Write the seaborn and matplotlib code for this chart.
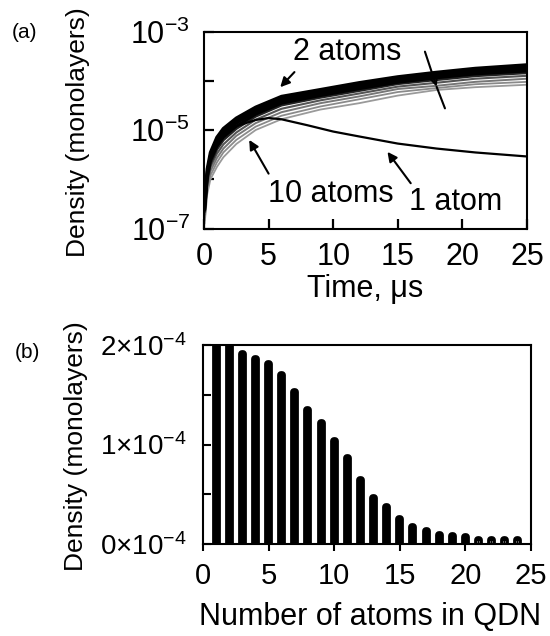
import numpy as np
import pandas as pd
import matplotlib
matplotlib.use("Agg")
import matplotlib.pyplot as plt
from matplotlib.ticker import FixedLocator, NullFormatter
import seaborn as sns

# ---------------- data ----------------
t_bundle = [0.05, 0.25, 0.5, 1, 1.5, 2.5, 4, 6, 9, 12, 15, 18, 21, 25]
dens_2 = [3.2e-7, 1.6e-6, 3.5e-6, 7.1e-6, 1.07e-5, 1.74e-5, 2.9e-5, 4.8e-5, 6.6e-5, 9.1e-5, 1.2e-4, 1.48e-4, 1.78e-4, 2.1e-4]
dens_3 = [2.9e-7, 1.41e-6, 3.1e-6, 6.2e-6, 9.3e-6, 1.55e-5, 2.6e-5, 4.3e-5, 6.0e-5, 8.3e-5, 1.1e-4, 1.35e-4, 1.62e-4, 1.9e-4]
dens_4 = [2.6e-7, 1.26e-6, 2.75e-6, 5.4e-6, 8.1e-6, 1.38e-5, 2.35e-5, 3.9e-5, 5.5e-5, 7.6e-5, 1.02e-4, 1.26e-4, 1.51e-4, 1.74e-4]
dens_5 = [2.4e-7, 1.12e-6, 2.4e-6, 4.7e-6, 7.2e-6, 1.2e-5, 2.1e-5, 3.5e-5, 5.0e-5, 6.9e-5, 9.3e-5, 1.15e-4, 1.38e-4, 1.58e-4]
dens_6 = [2.2e-7, 1.0e-6, 2.1e-6, 4.1e-6, 6.3e-6, 1.07e-5, 1.9e-5, 3.2e-5, 4.6e-5, 6.3e-5, 8.7e-5, 1.05e-4, 1.26e-4, 1.45e-4]
dens_7 = [1.9e-7, 8.4e-7, 1.78e-6, 3.3e-6, 5.1e-6, 8.9e-6, 1.62e-5, 2.7e-5, 4.0e-5, 5.5e-5, 7.6e-5, 9.1e-5, 1.1e-4, 1.26e-4]
dens_8 = [1.66e-7, 7.1e-7, 1.46e-6, 2.7e-6, 4.2e-6, 7.6e-6, 1.38e-5, 2.3e-5, 3.5e-5, 4.8e-5, 6.8e-5, 7.9e-5, 9.5e-5, 1.1e-4]
dens_9 = [1.45e-7, 6.0e-7, 1.2e-6, 2.2e-6, 3.5e-6, 6.3e-6, 1.17e-5, 1.95e-5, 3.0e-5, 4.2e-5, 5.9e-5, 7.1e-5, 8.5e-5, 9.5e-5]
dens_10 = [1.26e-7, 5.0e-7, 1.0e-6, 1.78e-6, 2.8e-6, 5.2e-6, 1.0e-5, 1.66e-5, 2.6e-5, 3.5e-5, 5.0e-5, 6.5e-5, 7.4e-5, 8.3e-5]

t_single = [0.05, 0.25, 0.5, 1, 1.5, 2.5, 4, 5, 6, 8, 10, 12, 15, 18, 21, 25]
dens_1 = [3.0e-7, 1.5e-6, 3.2e-6, 6.0e-6, 8.5e-6, 1.2e-5, 1.6e-5, 1.75e-5, 1.65e-5, 1.25e-5, 9.3e-6, 7.4e-6, 5.3e-6, 4.2e-6, 3.5e-6, 2.9e-6]

atoms = list(range(1, 25))
qdn_density = [2.6e-4, 2.1e-4, 1.91e-4, 1.86e-4, 1.81e-4, 1.70e-4, 1.53e-4, 1.35e-4, 1.22e-4, 1.04e-4,
               0.86e-4, 0.64e-4, 0.46e-4, 0.37e-4, 0.25e-4, 0.17e-4, 0.13e-4, 0.09e-4, 0.08e-4, 0.07e-4,
               0.045e-4, 0.045e-4, 0.045e-4, 0.045e-4]

top_yticks = [1e-7, 1e-5, 1e-3]
top_yticklabels = [r'$10^{-7}$', r'$10^{-5}$', r'$10^{-3}$']
bot_yticks = [0, 1e-4, 2e-4]
bot_yticklabels = [r'$0{\times}10^{-4}$', r'$1{\times}10^{-4}$', r'$2{\times}10^{-4}$']
xticks = [0, 5, 10, 15, 20, 25]

# ---------------- style ----------------
sns.set_style("white")
plt.rcParams['font.family'] = ['Liberation Sans', 'DejaVu Sans']
plt.rcParams['mathtext.fontset'] = 'custom'
plt.rcParams['mathtext.rm'] = 'Liberation Sans'
plt.rcParams['mathtext.it'] = 'Liberation Sans:italic'
plt.rcParams['mathtext.default'] = 'regular'
for key in ['text.color', 'axes.labelcolor', 'xtick.color', 'ytick.color',
            'xtick.labelcolor', 'ytick.labelcolor']:
    plt.rcParams[key] = 'black'

W, H = 550, 636
fig = plt.figure(figsize=(5.5, 6.36), dpi=100)

def box(l, t, r, b):
    return [l / W, 1 - b / H, (r - l) / W, (b - t) / H]

ax1 = fig.add_axes(box(204, 31.5, 527, 228.5))
ax2 = fig.add_axes(box(203, 345, 531, 544))

# ---------------- panel (a) ----------------
curves = [
    (dens_10, '#9a9a9a', 1.3),
    (dens_9, '#8a8a8a', 1.3),
    (dens_8, '#777777', 1.4),
    (dens_7, '#555555', 1.5),
    (dens_6, '#222222', 2.0),
    (dens_5, '#000000', 2.2),
    (dens_4, '#000000', 2.2),
    (dens_3, '#000000', 2.2),
    (dens_2, '#000000', 2.4),
]
for vals, col, lw in curves:
    sns.lineplot(x=t_bundle, y=vals, color=col, lw=lw, ax=ax1, legend=False)
sns.lineplot(x=t_single, y=dens_1, color='black', lw=1.6, ax=ax1, legend=False)

ax1.set_yscale('log')
ax1.set_xlim(0, 25)
ax1.set_ylim(1e-7, 1e-3)
ax1.set_yticks(top_yticks, labels=top_yticklabels)
ax1.yaxis.set_minor_locator(FixedLocator([1e-6, 1e-4]))
ax1.yaxis.set_minor_formatter(NullFormatter())
ax1.set_xticks(xticks, labels=[str(v) for v in xticks])
ax1.tick_params(which='both', direction='in', length=7, width=1.6, labelsize=22,
                left=True, bottom=True, top=False, right=False, colors='black')
ax1.tick_params(axis='y', pad=10)
ax1.tick_params(axis='x', pad=10)
ax1.set_xlabel('')
ax1.set_ylabel('')
for s in ax1.spines.values():
    s.set_linewidth(1.5)
    s.set_color('black')

arrow_kw = dict(arrowstyle='-|>', color='black', lw=1.5, mutation_scale=14,
                shrinkA=0, shrinkB=0)
ax1.annotate('', xy=(5.9, 7.4e-5), xytext=(7.0, 1.5e-4), arrowprops=arrow_kw)
ax1.text(11.1, 3.9e-4, '2 atoms', fontsize=22, ha='center', va='center')
ax1.annotate('', xy=(3.5, 6.3e-6), xytext=(5.0, 1.3e-6), arrowprops=arrow_kw)
ax1.text(9.8, 5.1e-7, '10 atoms', fontsize=22, ha='center', va='center')
ax1.annotate('', xy=(14.2, 3.6e-6), xytext=(16.0, 8.3e-7), arrowprops=arrow_kw)
ax1.text(19.5, 3.5e-7, '1 atom', fontsize=22, ha='center', va='center')
# arrow across the band
ax1.annotate('', xy=(18.0, 7.6e-5), xytext=(17.1, 3.9e-4),
             arrowprops=dict(arrowstyle='->', color='black', lw=1.5,
                             mutation_scale=18, shrinkA=0, shrinkB=0))
ax1.annotate('', xy=(18.65, 2.75e-5), xytext=(18.0, 7.6e-5),
             arrowprops=dict(arrowstyle='-', color='black', lw=1.5, shrinkA=0, shrinkB=0))

# ---------------- panel (b) ----------------
df = pd.DataFrame({'atoms': atoms, 'density': qdn_density})
sns.barplot(data=df, x='atoms', y='density', native_scale=True, width=0.08,
            color='black', saturation=1, errorbar=None, ax=ax2)
for p in ax2.patches:
    p.set_edgecolor('black')
    p.set_linewidth(5.6)
    p.set_joinstyle('round')
ax2.set_xlim(0, 25)
ax2.set_ylim(0, 2e-4)
ax2.set_yticks(bot_yticks, labels=bot_yticklabels)
ax2.yaxis.set_minor_locator(FixedLocator([0.5e-4, 1.5e-4]))
ax2.yaxis.set_minor_formatter(NullFormatter())
ax2.set_xticks(xticks, labels=[str(v) for v in xticks])
ax2.tick_params(axis='y', which='both', direction='in', length=6, width=1.5, labelsize=20,
                left=True, right=False, pad=12, colors='black')
ax2.tick_params(axis='x', which='both', direction='out', length=5, width=1.5, labelsize=21,
                bottom=True, top=False, pad=8, colors='black')
ax2.set_xlabel('')
ax2.set_ylabel('')
for s in ax2.spines.values():
    s.set_linewidth(1.5)
    s.set_color('black')
    s.set_zorder(5)

# ---------------- labels ----------------
fig.text(78 / W, 1 - 132 / H, 'Density (monolayers)', rotation=90, fontsize=19,
         ha='center', va='center', color='black')
fig.text(76 / W, 1 - 446 / H, 'Density (monolayers)', rotation=90, fontsize=19,
         ha='center', va='center', color='black')
fig.text(365 / W, 1 - 289 / H, 'Time, μs', fontsize=22, ha='center', va='center', color='black')
fig.text(370 / W, 1 - 617 / H, 'Number of atoms in QDN', fontsize=22, ha='center', va='center',
         color='black')
fig.text(24 / W, 1 - 33 / H, '(a)', fontsize=15, ha='center', va='center', color='black')
fig.text(27 / W, 1 - 352 / H, '(b)', fontsize=15, ha='center', va='center', color='black')

fig.savefig('out.png', dpi=100)
